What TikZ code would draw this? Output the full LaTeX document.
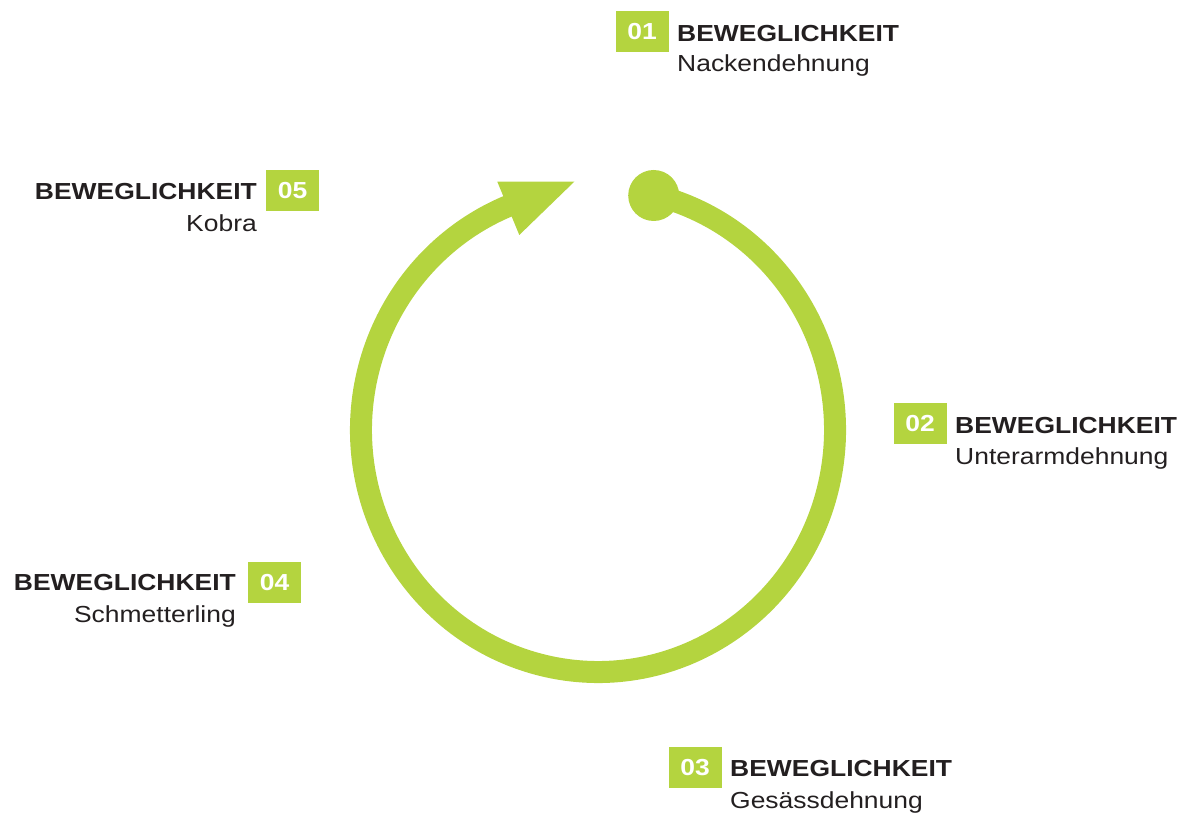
\documentclass[tikz,border=0pt]{standalone}
\usepackage{fontspec}
\setmainfont{Liberation Sans}[FakeStretch=1.14]
\definecolor{lime}{HTML}{B4D43F}
\definecolor{ink}{HTML}{231F20}
\tikzset{
  numbox/.style={fill=lime, text=white, minimum width=53pt, minimum height=41pt, inner sep=0pt,
    font=\fontsize{23.2}{26}\selectfont\bfseries},
  headtxt/.style={text=ink, inner sep=0pt, font=\fontsize{23.2}{26}\selectfont\bfseries},
  subtxt/.style={text=ink, inner sep=0pt, font=\fontsize{23.2}{26}\selectfont},
  ring/.style={draw=lime, line width=22pt}
}
\begin{document}
\begin{tikzpicture}[x=1pt,y=1pt]
\useasboundingbox (0,0) rectangle (1188,817);
% ring
\coordinate (c) at (598,387);
\draw[ring] (c) ++(76.4:237 and 242) coordinate (start)
  arc[start angle=76.4, end angle=-247.7, x radius=237, y radius=242] coordinate (end);
\fill[lime] (653.7,621.5) coordinate (dot) circle[radius=25.5];
\coordinate (b1) at (497.3,635.3);
\coordinate (tip) at (574.3,635.3);
\coordinate (b2) at (519.3,582);
\fill[lime] (b1) -- (tip) -- (b2) -- cycle;
% label 01
\node[numbox] (n1) at (642,785) {01};
\node[headtxt, anchor=base west] (h1) at (677,775.3) {BEWEGLICHKEIT};
\node[subtxt, anchor=base west] (s1) at (677,745.3) {Nackendehnung};
% label 02
\node[numbox] (n2) at (920,393.5) {02};
\node[headtxt, anchor=base west] (h2) at (955,383.7) {BEWEGLICHKEIT};
\node[subtxt, anchor=base west] (s2) at (955,352) {Unterarmdehnung};
% label 03
\node[numbox] (n3) at (695,49.2) {03};
\node[headtxt, anchor=base west] (h3) at (730,40.3) {BEWEGLICHKEIT};
\node[subtxt, anchor=base west] (s3) at (730,8.7) {Gesässdehnung};
% label 04
\node[numbox] (n4) at (274.5,234.5) {04};
\node[headtxt, anchor=base east] (h4) at (236,226.3) {BEWEGLICHKEIT};
\node[subtxt, anchor=base east] (s4) at (236,194.8) {Schmetterling};
% label 05
\node[numbox] (n5) at (292.5,626.2) {05};
\node[headtxt, anchor=base east] (h5) at (257,617) {BEWEGLICHKEIT};
\node[subtxt, anchor=base east] (s5) at (257,585.3) {Kobra};
\end{tikzpicture}
\end{document}
